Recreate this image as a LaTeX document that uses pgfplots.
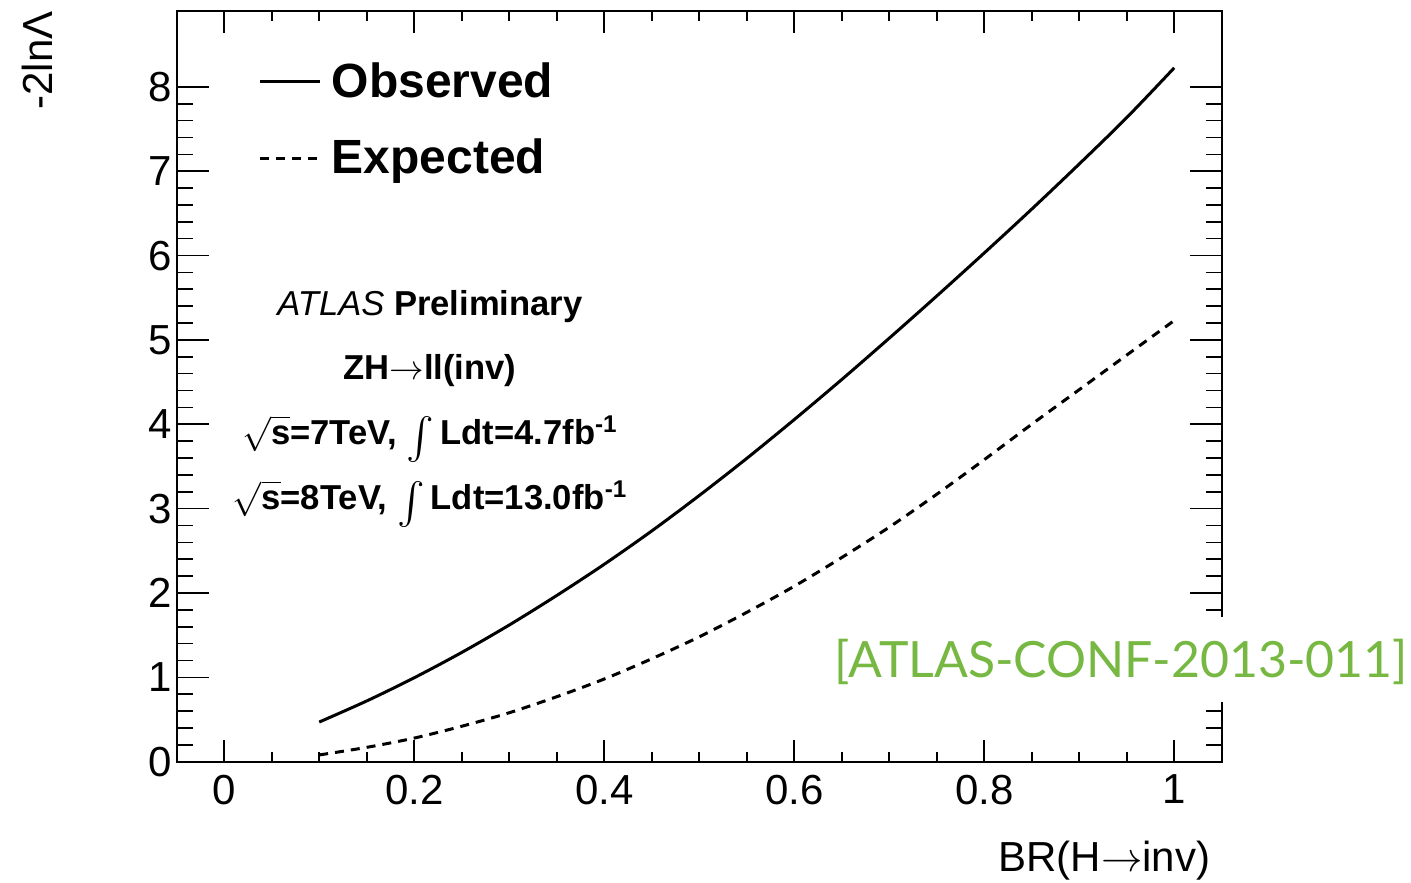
\documentclass[border=0pt]{standalone}
\usepackage{amsmath}
\usepackage{pgfplots}
\pgfplotsset{compat=1.18}
\usepackage{fontspec}
\setmainfont{Liberation Sans}
\newfontfamily\gill{Lato}
\definecolor{confgreen}{RGB}{118,184,66}
\newcommand{\bigint}{\raisebox{-2.5pt}{\fontsize{20}{24}\selectfont$\int$}}

\begin{document}
\begin{tikzpicture}
\begin{axis}[
  scale only axis, width=522.5pt, height=375.4pt,
  xmin=-0.05, xmax=1.05, ymin=0, ymax=8.9,
  xtick={0,0.2,0.4,0.6,0.8,1}, ytick={0,1,2,3,4,5,6,7,8},
  minor x tick num=3, minor y tick num=4,
  tick align=inside, tick pos=both,
  axis line style={line width=1pt},
  tick style={black, line width=0.8pt},
  xtick style={/pgfplots/major tick length=11pt, /pgfplots/minor tick length=5pt},
  ytick style={/pgfplots/major tick length=16pt, /pgfplots/minor tick length=8pt},
  ticklabel style={font=\fontsize{21}{25}\selectfont},
  /pgf/number format/assume math mode=true,
  xticklabel style={inner ysep=6.5pt},
  yticklabel style={inner xsep=2.3pt},
  xlabel={BR(H$\rightarrow$inv)},
  xlabel style={font=\fontsize{21}{25}\selectfont, at={(rel axis cs:0.9895,-0.1465)}, anchor=base east, inner sep=0pt},
  ylabel={-2lnΛ},
  ylabel style={font=\fontsize{21}{25}\selectfont, at={(rel axis cs:-0.1184,1.0)}, anchor=base east, inner sep=0pt},
  legend style={at={(rel axis cs:0.0781,0.932)}, anchor=north west, draw=none, fill=none,
    inner sep=0pt, row sep=19.5pt, column sep=5pt,
    font=\bfseries\fontsize{24}{28}\selectfont,
    nodes={inner sep=0pt}},
  legend cell align=left,
  legend image code/.code={\draw[#1] (0pt,0pt) -- (30pt,0pt);},
]
\addplot[black, line width=1.5pt, smooth] coordinates {
(0.10,0.47) (0.15,0.72) (0.20,0.995) (0.25,1.295) (0.30,1.62) (0.35,1.97) (0.40,2.34)
(0.45,2.735) (0.50,3.155) (0.55,3.595) (0.60,4.055) (0.65,4.53) (0.70,5.02) (0.75,5.52)
(0.80,6.03) (0.85,6.55) (0.90,7.085) (0.95,7.635) (1.00,8.225)};
\addlegendentry{Observed}
\addplot[black, line width=1.5pt, dash pattern=on 4.5pt off 3.5pt, smooth] coordinates {
(0.10,0.08) (0.15,0.17) (0.20,0.28) (0.25,0.42) (0.30,0.58) (0.35,0.77) (0.40,0.98)
(0.45,1.22) (0.50,1.48) (0.55,1.77) (0.60,2.08) (0.65,2.42) (0.70,2.78) (0.75,3.17)
(0.80,3.58) (0.85,4.00) (0.90,4.41) (0.95,4.82) (1.00,5.23)};
\addlegendentry{Expected}

\node[anchor=base, font=\bfseries\fontsize{17.3}{20}\selectfont, inner sep=0pt] at (rel axis cs:0.2424,0.5937) {{\mdseries\itshape ATLAS} Preliminary};
\node[anchor=base, font=\bfseries\fontsize{17.3}{20}\selectfont, inner sep=0pt] at (rel axis cs:0.2424,0.5085) {ZH$\rightarrow$ll(inv)};
\node[anchor=base, font=\bfseries\fontsize{17.3}{20}\selectfont, inner sep=0pt] at (rel axis cs:0.2424,0.4219) {$\sqrt{\mbox{s}}$=7TeV, \bigint\kern3pt Ldt=4.7fb\textsuperscript{-1}};
\node[anchor=base, font=\bfseries\fontsize{17.3}{20}\selectfont, inner sep=0pt] at (rel axis cs:0.2424,0.3353) {$\sqrt{\mbox{s}}$=8TeV, \bigint\kern3pt Ldt=13.0fb\textsuperscript{-1}};

\coordinate (gtxt) at (rel axis cs:0.6290,0.1128);
\coordinate (sw) at (rel axis cs:0,0);
\end{axis}
\node[anchor=base west, fill=white, inner sep=0pt, text height=30pt, text depth=12.5pt,
  text=confgreen, font=\gill\fontsize{25}{30}\selectfont] at (gtxt) {[ATLAS-CONF-2013-011]};
\pgfresetboundingbox
\path (sw) ++(-88.35pt,-60.15pt) rectangle ++(705.5pt,441pt);
\end{tikzpicture}
\end{document}
